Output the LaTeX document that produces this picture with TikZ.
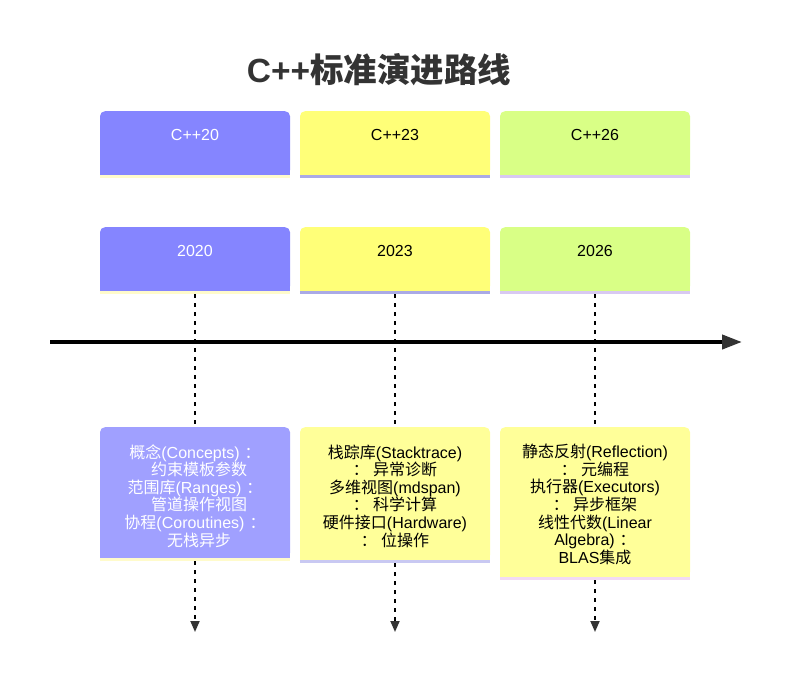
\documentclass[tikz,border=0pt]{standalone}
\usepackage{fontspec}
\setmainfont{Liberation Sans}
\newfontfamily\cjk{Noto Sans CJK SC}
\usetikzlibrary{arrows.meta}
\newcommand\zh[1]{{\cjk #1}}
\newcommand\cln{\hspace{5pt}\zh{：}}
\definecolor{fillA}{HTML}{8585FF}
\definecolor{fillB}{HTML}{FFFF78}
\definecolor{fillC}{HTML}{D9FF86}
\definecolor{evA}{HTML}{A0A0FF}
\definecolor{evB}{HTML}{FFFF99}
\definecolor{evC}{HTML}{FFFF99}
\definecolor{lineA}{HTML}{FFFBCB}
\definecolor{lineB}{HTML}{AAAAE6}
\definecolor{lineC}{HTML}{D8C9F2}
\definecolor{lineEB}{HTML}{C9C9F2}
\definecolor{lineEC}{HTML}{F2DAF2}
\definecolor{dark}{HTML}{333333}
\begin{document}
\begin{tikzpicture}[x=1pt,y=-1pt,
  box/.style={minimum width=190pt, rounded corners=5pt, inner sep=0pt, draw=none, anchor=north},
  lbl/.style={font=\fontsize{16}{17.6}\selectfont, align=center, inner sep=0pt},
  dashline/.style={line width=1.8pt, dash pattern=on 4pt off 5pt, draw=black},
  tipend/.style={-{Triangle[length=11pt,width=9pt,color=dark]}},
]
\useasboundingbox (0,0) rectangle (790,680);

% title
\node[font=\bfseries\fontsize{33.5}{36}\selectfont, text=dark, inner sep=0pt] (title) at (379,70) {C++\zh{标准演进路线}};

\coordinate (end1) at (195,632);
\coordinate (end2) at (395,632);
\coordinate (end3) at (595,632);

% section boxes
\node[box, fill=fillA, minimum height=64pt] (s1) at (195,111) {};
\node[box, fill=fillB, minimum height=64pt] (s2) at (395,111) {};
\node[box, fill=fillC, minimum height=64pt] (s3) at (595,111) {};
\fill[fillA] ([yshift=10pt]s1.south west) rectangle (s1.south east);
\fill[fillB] ([yshift=10pt]s2.south west) rectangle (s2.south east);
\fill[fillC] ([yshift=10pt]s3.south west) rectangle (s3.south east);
\draw[line width=3pt, lineA] ([yshift=-1.5pt]s1.south west) -- ([yshift=-1.5pt]s1.south east);
\draw[line width=3pt, lineB] ([yshift=-1.5pt]s2.south west) -- ([yshift=-1.5pt]s2.south east);
\draw[line width=3pt, lineC] ([yshift=-1.5pt]s3.south west) -- ([yshift=-1.5pt]s3.south east);
\node[lbl, text=white] (t1) at (195,135) {C++20};
\node[lbl, text=black] (t2) at (395,135) {C++23};
\node[lbl, text=black] (t3) at (595,135) {C++26};

% year boxes
\node[box, fill=fillA, minimum height=64pt] (y1) at (195,227) {};
\node[box, fill=fillB, minimum height=64pt] (y2) at (395,227) {};
\node[box, fill=fillC, minimum height=64pt] (y3) at (595,227) {};
\fill[fillA] ([yshift=10pt]y1.south west) rectangle (y1.south east);
\fill[fillB] ([yshift=10pt]y2.south west) rectangle (y2.south east);
\fill[fillC] ([yshift=10pt]y3.south west) rectangle (y3.south east);
\draw[line width=3pt, lineA] ([yshift=-1.5pt]y1.south west) -- ([yshift=-1.5pt]y1.south east);
\draw[line width=3pt, lineB] ([yshift=-1.5pt]y2.south west) -- ([yshift=-1.5pt]y2.south east);
\draw[line width=3pt, lineC] ([yshift=-1.5pt]y3.south west) -- ([yshift=-1.5pt]y3.south east);
\node[lbl, text=white] (n1) at (195,251) {2020};
\node[lbl, text=black] (n2) at (395,251) {2023};
\node[lbl, text=black] (n3) at (595,251) {2026};

% event boxes
\node[box, fill=evA, minimum height=131pt] (e1) at (195,427) {};
\node[box, fill=evB, minimum height=133pt] (e2) at (395,427) {};
\node[box, fill=evC, minimum height=150pt] (e3) at (595,427) {};

% dashed connectors
\draw[dashline] ([yshift=-3pt]y1.south) -- (e1.north);
\draw[dashline] ([yshift=-3pt]y2.south) -- (e2.north);
\draw[dashline] ([yshift=-3pt]y3.south) -- (e3.north);
\draw[dashline, tipend] ([yshift=-3pt]e1.south) -- (end1);
\draw[dashline, tipend] ([yshift=-3pt]e2.south) -- (end2);
\draw[dashline, tipend] ([yshift=-3pt]e3.south) -- (end3);

\fill[evA] ([yshift=10pt]e1.south west) rectangle (e1.south east);
\fill[evB] ([yshift=10pt]e2.south west) rectangle (e2.south east);
\fill[evC] ([yshift=10pt]e3.south west) rectangle (e3.south east);
\draw[line width=3pt, lineA] ([yshift=-1.5pt]e1.south west) -- ([yshift=-1.5pt]e1.south east);
\draw[line width=3pt, lineEB] ([yshift=-1.5pt]e2.south west) -- ([yshift=-1.5pt]e2.south east);
\draw[line width=3pt, lineEC] ([yshift=-1.5pt]e3.south west) -- ([yshift=-1.5pt]e3.south east);

\node[lbl, text=white] (x1) at (195,496) {\zh{概念}(Concepts)\cln\\ \hspace{8pt}\zh{约束模板参数}\\ \zh{范围库}(Ranges)\cln\\ \hspace{8pt}\zh{管道操作视图}\\ \zh{协程}(Coroutines)\cln\\ \hspace{8pt}\zh{无栈异步}};
\node[lbl, text=black] (x2) at (395,496) {\zh{栈踪库}(Stacktrace)\\ \zh{：} \zh{异常诊断}\\ \zh{多维视图}(mdspan)\\ \zh{：} \zh{科学计算}\\ \zh{硬件接口}(Hardware)\\ \zh{：} \zh{位操作}};
\node[lbl, text=black] (x3) at (595,504.5) {\zh{静态反射}(Reflection)\\ \zh{：} \zh{元编程}\\ \zh{执行器}(Executors)\\ \zh{：} \zh{异步框架}\\ \zh{线性代数}(Linear\\ Algebra)\cln\\ BLAS\zh{集成}};

% time axis
\coordinate (axs) at (50,342);
\coordinate (axe) at (742,342);
\draw[line width=4pt, black, -{Triangle[length=20pt,width=14pt,color=dark]}] (axs) -- (axe);
\end{tikzpicture}
\end{document}
